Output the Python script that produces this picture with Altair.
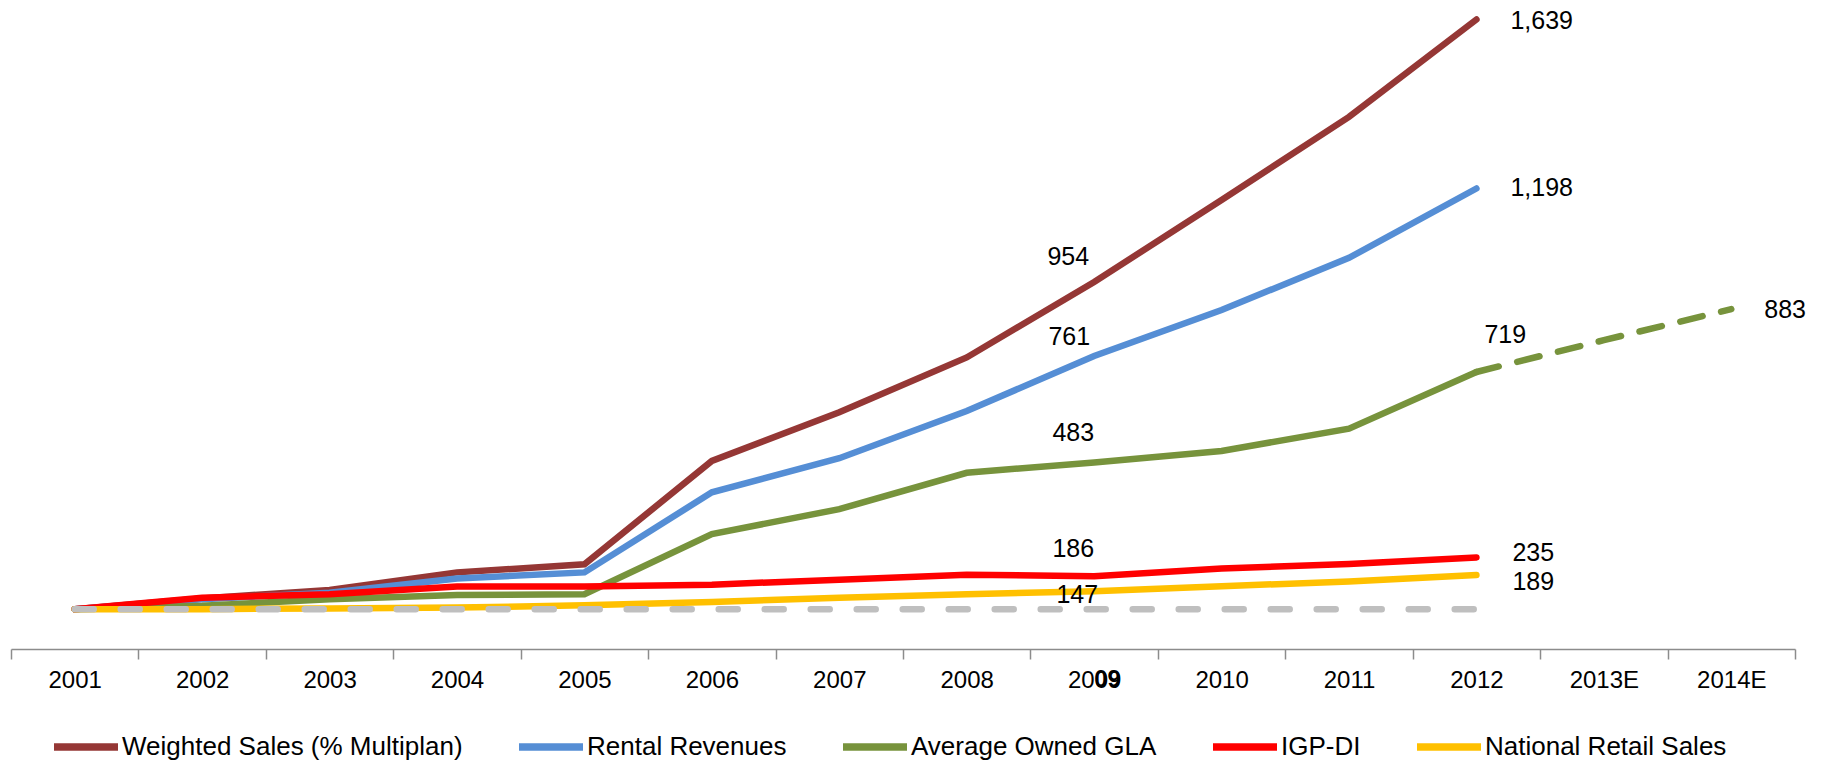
import altair as alt
import pandas as pd

# Category axis
years = ["2001", "2002", "2003", "2004", "2005", "2006", "2007",
         "2008", "2009", "2010", "2011", "2012", "2013E", "2014E"]
hist_years = years[:12]
proj_years = ["2012", "2013E", "2014E"]

# Index series (2001 = 100)
weighted_sales = [100, 128, 150, 196, 217, 487, 614, 757, 954, 1168, 1385, 1639]
rental_revenues = [100, 126, 143, 180, 196, 405, 494, 617, 761, 881, 1017, 1198]
owned_gla = [100, 109, 126, 137, 139, 296, 361, 456, 483, 513, 571, 719]
owned_gla_projection = [719, 802, 883]
igp_di = [100, 130, 139, 159, 159, 164, 177, 190, 186, 206, 218, 235]
retail_sales = [100, 100, 102, 104, 110, 119, 130, 139, 147, 160, 172, 189]
base_index = [100, 100, 100, 100, 100, 100, 100, 100, 100, 100, 100, 100]

series_names = ["Weighted Sales (% Multiplan)", "Rental Revenues",
                "Average Owned GLA", "IGP-DI", "National Retail Sales"]
series_colors = ["#953735", "#558ED5", "#77933C", "#FF0000", "#FFC000"]
series_values = [weighted_sales, rental_revenues, owned_gla, igp_di, retail_sales]

FONT = "Liberation Sans"
LINE_W = 6.5

rows = []
for name, vals in zip(series_names, series_values):
    for yr, v in zip(hist_years, vals):
        rows.append({"series": name, "year": yr, "value": v})
df = pd.DataFrame(rows)
df["label"] = df["value"].map(lambda v: f"{v:,}")

proj_df = pd.DataFrame({"year": proj_years, "value": owned_gla_projection})
proj_df["label"] = proj_df["value"].map(lambda v: f"{v:,}")
base_df = pd.DataFrame({"year": hist_years, "value": base_index})

x_scale = alt.Scale(type="band", domain=years, paddingInner=0, paddingOuter=0)
y_scale = alt.Scale(domain=[-4, 1690], nice=False, zero=False)

x_enc = alt.X(
    "year:O", scale=x_scale, bandPosition=0.5, title=None,
    axis=alt.Axis(labelAngle=0, tickBand="extent", grid=False,
                  domainColor="#8C8C8C", domainWidth=1.5,
                  tickColor="#8C8C8C", tickWidth=1.5, tickSize=10,
                  labelFont=FONT, labelFontSize=24, labelColor="black",
                  labelPadding=9),
)
y_enc = alt.Y("value:Q", scale=y_scale, axis=None)

lines = alt.Chart(df).mark_line(strokeWidth=LINE_W, strokeCap="round").encode(
    x=x_enc,
    y=y_enc,
    color=alt.Color(
        "series:N",
        scale=alt.Scale(domain=series_names, range=series_colors),
        sort=series_names,
        legend=alt.Legend(title=None),
    ),
    detail="series:N",
)

projection = alt.Chart(proj_df).mark_line(
    strokeWidth=LINE_W, strokeCap="round", strokeDash=[23, 19], color="#77933C"
).encode(x=x_enc, y=y_enc)

baseline = alt.Chart(base_df).mark_line(
    strokeWidth=LINE_W, strokeCap="round", strokeDash=[19, 27], color="#BFBFBF"
).encode(x=x_enc, y=y_enc)

# value labels: (series, year, align, dx, dy)
label_specs = [
    ("Weighted Sales (% Multiplan)", "2009", "right", -5, -25),
    ("Rental Revenues", "2009", "right", -4, -19),
    ("Average Owned GLA", "2009", "right", 0, -29),
    ("IGP-DI", "2009", "right", 0, -27),
    ("National Retail Sales", "2009", "right", 4, 4),
    ("Weighted Sales (% Multiplan)", "2012", "left", 34, 1),
    ("Rental Revenues", "2012", "left", 34, 0),
    ("Average Owned GLA", "2012", "left", 8, -37),
    ("IGP-DI", "2012", "left", 36, -4),
    ("National Retail Sales", "2012", "left", 36, 7),
]

text_layers = []
for name, yr, align, dx, dy in label_specs:
    text_layers.append(
        alt.Chart(df).transform_filter(
            (alt.datum.series == name) & (alt.datum.year == yr)
        ).mark_text(
            align=align, baseline="middle", dx=dx, dy=dy,
            font=FONT, fontSize=25, color="black",
        ).encode(x=alt.X("year:O", scale=x_scale, bandPosition=0.5), y=y_enc, text="label:N")
    )

text_layers.append(
    alt.Chart(proj_df).transform_filter(alt.datum.year == "2014E").mark_text(
        align="left", baseline="middle", dx=33, dy=1,
        font=FONT, fontSize=25, color="black",
    ).encode(x=alt.X("year:O", scale=x_scale, bandPosition=0.5), y=y_enc, text="label:N")
)

# bold trailing digits of the 2009 tick label
bold_tick = alt.Chart(pd.DataFrame({"year": ["2009"], "part": ["09"]})).mark_text(
    align="left", baseline="top", font=FONT, fontSize=24, fontWeight="bold", color="black",
).encode(x=alt.X("year:O", scale=x_scale, bandPosition=0.5), y=alt.value(668), text="part:N")

chart = alt.layer(lines, projection, baseline, *text_layers, bold_tick).properties(
    width=1784, height=649,
    padding={"left": 10, "top": 0, "right": 0, "bottom": 0},
).configure_view(stroke=None).configure_legend(
    orient="none", legendX=39, legendY=711, direction="horizontal",
    padding=0, symbolType="stroke", symbolSize=4096, symbolStrokeWidth=7.5,
    labelFont=FONT, labelFontSize=26, labelColor="black", labelLimit=600,
    labelOffset=0, columnPadding=41,
)

chart.save("out.html", embed_options={"renderer": "svg", "actions": False})
